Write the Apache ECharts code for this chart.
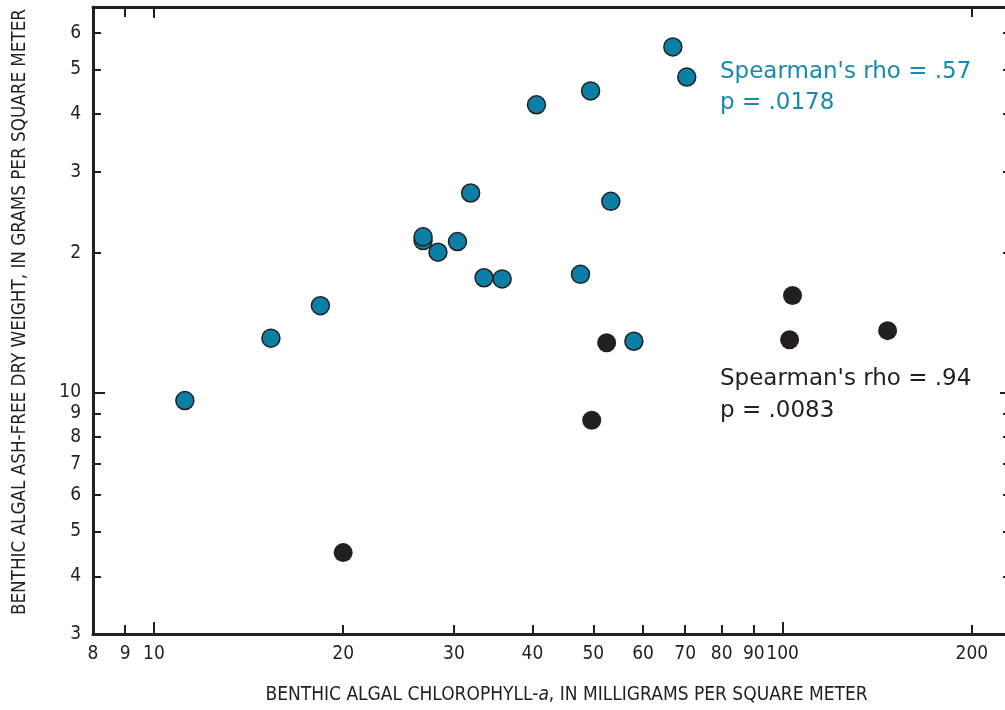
<!DOCTYPE html>
<html>
<head>
<meta charset="utf-8">
<script src="https://cdn.jsdelivr.net/npm/echarts@6/dist/echarts.min.js"></script>
<style>
html,body{margin:0;padding:0;overflow:hidden;background:#fff;}
#chart{width:1012px;height:710px;}
</style>
</head>
<body>
<div id="chart"></div>
<script>
// Data (chlorophyll-a mg/m2, ash-free dry weight g/m2)
const blueSeries = [
  [11.2, 9.6], [15.35, 13.1], [18.4, 15.4], [26.8, 21.3], [26.8, 21.7],
  [28.3, 20.1], [30.4, 21.2], [31.9, 27.0], [33.5, 17.7], [35.8, 17.6],
  [40.6, 41.9], [47.7, 18.0], [49.5, 44.9], [53.3, 25.9], [58.0, 12.9],
  [66.9, 55.9], [70.4, 48.1]
];
const blackSeries = [
  [20.0, 4.5], [49.7, 8.7], [52.5, 12.8], [102.6, 13.0], [103.7, 16.2], [146.9, 13.6]
];
const xTickLabels = [8, 9, 10, 20, 30, 40, 50, 60, 70, 80, 90, 100, 200];
const xMinorTicks = [9, 20, 30, 40, 50, 60, 70, 80, 90, 200];
const xMajorTicks = [10, 100];
const xTopMinorTicks = [9, 200];
const xTopMajorTicks = [10];
const yTickLabels = [3, 4, 5, 6, 7, 8, 9, 10, 20, 30, 40, 50, 60];
const yMinorTicks = [4, 5, 6, 7, 8, 9, 20, 30, 40, 50, 60];
const yMajorTicks = [10];
const annotBlue = ["Spearman's rho = .57", "p = .0178"];
const annotBlack = ["Spearman's rho = .94", "p = .0083"];
const xTitle = 'BENTHIC ALGAL CHLOROPHYLL-{i|a}, IN MILLIGRAMS PER SQUARE METER';
const yTitle = 'BENTHIC ALGAL ASH-FREE DRY WEIGHT, IN GRAMS PER SQUARE METER';

const INK = '#231f20';
const BLUE = '#0b7fa6';
const BLUE_TEXT = '#1589b0';
const COND = '"Liberation Sans Narrow", "DejaVu Sans Condensed", "Arial Narrow", sans-serif';
const XMIN = 8, XMAX = 230, YMIN = 3, YMAX = 68.2;

function xAx(position, opts) {
  return Object.assign({
    type: 'log', min: XMIN, max: XMAX, position: position,
    axisLine: {show: false, onZero: false},
    splitLine: {show: false},
    axisLabel: {show: false},
    axisTick: {show: false}
  }, opts);
}
function yAx(position, opts) {
  return Object.assign({
    type: 'log', min: YMIN, max: YMAX, position: position,
    axisLine: {show: false, onZero: false},
    splitLine: {show: false},
    axisLabel: {show: false},
    axisTick: {show: false}
  }, opts);
}
function rnd(v) { return Math.round(v * 1000) / 1000; }

const chart = echarts.init(document.getElementById('chart'), null, {renderer: 'canvas'});
chart.setOption({
  animation: false,
  backgroundColor: '#fff',
  grid: {left: 93, right: 2, top: 7, bottom: 70},
  xAxis: [
    xAx('bottom', {
      axisLine: {show: true, onZero: false, lineStyle: {color: INK, width: 3}},
      axisTick: {show: true, inside: true, length: 9, customValues: xMinorTicks, lineStyle: {color: INK, width: 2}},
      axisLabel: {show: true, customValues: xTickLabels, color: INK, fontSize: 19, fontFamily: COND, margin: 11,
        formatter: v => String(rnd(v))},
      name: xTitle, nameLocation: 'middle', nameGap: 52,
      nameTextStyle: {color: INK, fontSize: 19, fontFamily: COND, padding: [0, 0, 0, 30],
        rich: {i: {fontStyle: 'italic', fontSize: 19, fontFamily: COND, color: INK}}}
    }),
    xAx('bottom', {axisTick: {show: true, inside: true, length: 12, customValues: xMajorTicks, lineStyle: {color: INK, width: 2}}}),
    xAx('top', {
      axisLine: {show: true, onZero: false, lineStyle: {color: INK, width: 3}},
      axisTick: {show: true, inside: true, length: 10, customValues: xTopMinorTicks, lineStyle: {color: INK, width: 2}}
    }),
    xAx('top', {axisTick: {show: true, inside: true, length: 11, customValues: xTopMajorTicks, lineStyle: {color: INK, width: 2}}})
  ],
  yAxis: [
    yAx('left', {
      axisLine: {show: true, onZero: false, lineStyle: {color: INK, width: 3}},
      axisTick: {show: true, inside: true, length: 8, customValues: yMinorTicks, lineStyle: {color: INK, width: 2}},
      axisLabel: {show: true, customValues: yTickLabels, color: INK, fontSize: 19, fontFamily: COND, margin: 12,
        formatter: v => { v = rnd(v); return String(v >= 20 ? rnd(v / 10) : v); }}
    }),
    yAx('left', {axisTick: {show: true, inside: true, length: 12, customValues: yMajorTicks, lineStyle: {color: INK, width: 2}}}),
    yAx('right', {
      axisLine: {show: true, onZero: false, lineStyle: {color: INK, width: 3}},
      axisTick: {show: true, inside: true, length: 7, customValues: yMinorTicks, lineStyle: {color: INK, width: 2}}
    }),
    yAx('right', {axisTick: {show: true, inside: true, length: 10, customValues: yMajorTicks, lineStyle: {color: INK, width: 2}}})
  ],
  series: [
    {
      type: 'scatter', xAxisIndex: 0, yAxisIndex: 0, data: blackSeries,
      symbol: 'circle', symbolSize: 19,
      itemStyle: {color: INK, borderColor: INK, borderWidth: 0, opacity: 1}
    },
    {
      type: 'scatter', xAxisIndex: 0, yAxisIndex: 0, data: blueSeries,
      symbol: 'circle', symbolSize: 18,
      itemStyle: {color: BLUE, borderColor: INK, borderWidth: 1.5, opacity: 1}
    }
  ],
  graphic: [
    {type: 'text', x: 20, y: 312, rotation: Math.PI / 2,
      style: {text: yTitle, fill: INK, font: '18.7px ' + COND, align: 'center', verticalAlign: 'middle'}},
    {type: 'text', x: 720, y: 72, style: {text: annotBlue[0], fill: BLUE_TEXT, font: '23px "DejaVu Sans"', verticalAlign: 'middle'}},
    {type: 'text', x: 720, y: 103, style: {text: annotBlue[1], fill: BLUE_TEXT, font: '23px "DejaVu Sans"', verticalAlign: 'middle'}},
    {type: 'text', x: 720, y: 379, style: {text: annotBlack[0], fill: INK, font: '23px "DejaVu Sans"', verticalAlign: 'middle'}},
    {type: 'text', x: 720, y: 411, style: {text: annotBlack[1], fill: INK, font: '23px "DejaVu Sans"', verticalAlign: 'middle'}}
  ]
});
</script>
</body>
</html>
